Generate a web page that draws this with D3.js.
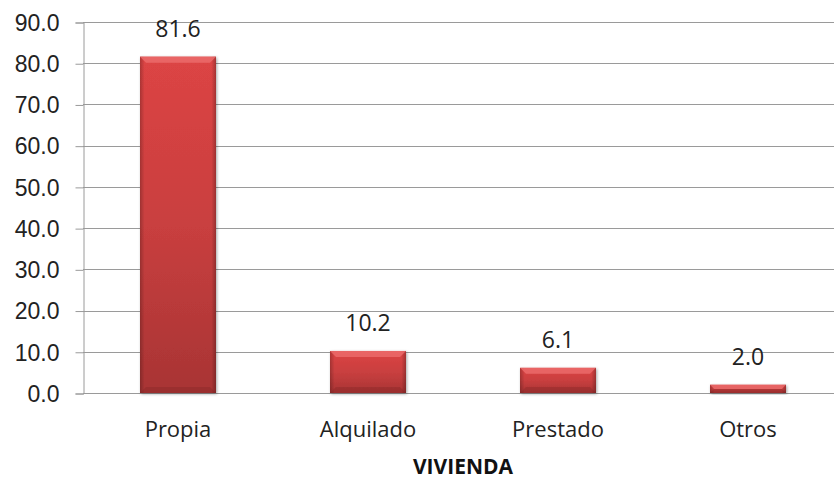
<!DOCTYPE html>
<html>
<head>
<meta charset="utf-8">
<script src="https://cdn.jsdelivr.net/npm/d3@7"></script>
<style>
	body { margin: 0; background: #fff; }
	svg { display: block; font-family: "Open Sans", Lato, sans-serif; }
	.tick text { fill: #222; }
</style>
</head>
<body>
<svg id="chart" width="834" height="480"></svg>
<script>
// Values
var categories = [ 'Propia', 'Alquilado', 'Prestado', 'Otros' ];
var values = [ 81.6, 10.2, 6.1, 2.0 ];
var yTicks = [ 0, 10, 20, 30, 40, 50, 60, 70, 80, 90 ];
var axisTitle = 'VIVIENDA';

var svg = d3.select( '#chart' );
var padding = { top: 22, left: 83, bottom: 87 };
var height = 480;

var x = d3.scaleBand()
	.domain( categories )
	.range( [ padding.left, padding.left + 760 ] )
	.paddingInner( 0.6 )
	.paddingOuter( 0.3 );

var y = d3.scaleLinear()
	.domain( [ 0, 90 ] )
	.range( [ height - padding.bottom, padding.top ] );

// gradients
var defs = svg.append( 'defs' );
var grad = defs.append( 'linearGradient' )
	.attr( 'id', 'barFill' )
	.attr( 'x1', 0 ).attr( 'y1', 0 ).attr( 'x2', 0 ).attr( 'y2', 1 );
grad.append( 'stop' ).attr( 'offset', '0%' ).attr( 'stop-color', '#dc4444' );
grad.append( 'stop' ).attr( 'offset', '50%' ).attr( 'stop-color', '#c93f3f' );
grad.append( 'stop' ).attr( 'offset', '100%' ).attr( 'stop-color', '#a83434' );

var side = defs.append( 'linearGradient' )
	.attr( 'id', 'sideShade' )
	.attr( 'x1', 0 ).attr( 'y1', 0 ).attr( 'x2', 1 ).attr( 'y2', 0 );
side.append( 'stop' ).attr( 'offset', '0%' ).attr( 'stop-color', '#000' ).attr( 'stop-opacity', 0.22 );
side.append( 'stop' ).attr( 'offset', '6%' ).attr( 'stop-color', '#000' ).attr( 'stop-opacity', 0 );
side.append( 'stop' ).attr( 'offset', '94%' ).attr( 'stop-color', '#000' ).attr( 'stop-opacity', 0 );
side.append( 'stop' ).attr( 'offset', '100%' ).attr( 'stop-color', '#000' ).attr( 'stop-opacity', 0.25 );

var shadow = defs.append( 'filter' ).attr( 'id', 'shadow' )
	.attr( 'x', '-10%' ).attr( 'y', '-10%' ).attr( 'width', '130%' ).attr( 'height', '130%' );
shadow.append( 'feDropShadow' )
	.attr( 'dx', 1 ).attr( 'dy', 1 ).attr( 'stdDeviation', 1.5 )
	.attr( 'flood-color', '#000' ).attr( 'flood-opacity', 0.35 );

// gridlines
svg.append( 'g' ).selectAll( 'line' )
	.data( yTicks )
	.enter()
	.append( 'line' )
	.attr( 'x1', padding.left )
	.attr( 'x2', 834 )
	.attr( 'y1', function ( d ) { return Math.round( y( d ) ) + 0.5; } )
	.attr( 'y2', function ( d ) { return Math.round( y( d ) ) + 0.5; } )
	.style( 'stroke', '#9a9a9a' )
	.style( 'stroke-width', 1 );

// y axis
var yAxis = svg.append( 'g' )
	.attr( 'transform', 'translate(' + ( padding.left + 0.5 ) + ',0.5)' )
	.call( d3.axisLeft( y ).tickValues( yTicks ).tickSize( 8 ).tickPadding( 16 )
		.tickFormat( function ( d ) { return d.toFixed( 1 ); } ) );
yAxis.select( '.domain' ).style( 'stroke', '#9a9a9a' );
yAxis.selectAll( '.tick line' ).style( 'stroke', '#9a9a9a' );
yAxis.selectAll( '.tick text' )
	.style( 'font-size', '23px' )
	.attr( 'dy', '0.34em' );

// bars
var bev = 6;
var bars = svg.append( 'g' ).selectAll( '.bar' )
	.data( values )
	.enter()
	.append( 'g' )
	.attr( 'class', 'bar' );

bars.append( 'rect' )
	.attr( 'x', function ( d, i ) { return x( categories[i] ); } )
	.attr( 'y', function ( d ) { return y( d ); } )
	.attr( 'width', x.bandwidth() )
	.attr( 'height', function ( d ) { return y( 0 ) - y( d ); } )
	.style( 'fill', 'url(#barFill)' )
	.attr( 'filter', 'url(#shadow)' );

bars.append( 'rect' )
	.attr( 'x', function ( d, i ) { return x( categories[i] ); } )
	.attr( 'y', function ( d ) { return y( d ); } )
	.attr( 'width', x.bandwidth() )
	.attr( 'height', function ( d ) { return y( 0 ) - y( d ); } )
	.style( 'fill', 'url(#sideShade)' );

// top bevel
bars.append( 'path' )
	.attr( 'd', function ( d, i ) {
		var x0 = x( categories[i] ), x1 = x0 + x.bandwidth(), t = y( d );
		var b = Math.min( bev, ( y( 0 ) - t ) / 2 );
		return 'M' + x0 + ',' + t + 'L' + x1 + ',' + t + 'L' + ( x1 - b ) + ',' + ( t + b ) +
			'L' + ( x0 + b ) + ',' + ( t + b ) + 'Z';
	} )
	.style( 'fill', '#ee7070' )
	.style( 'opacity', 0.75 );

// bottom bevel
bars.append( 'path' )
	.attr( 'd', function ( d, i ) {
		var x0 = x( categories[i] ), x1 = x0 + x.bandwidth(), bt = y( 0 );
		var b = Math.min( bev, ( bt - y( d ) ) / 2 );
		return 'M' + x0 + ',' + bt + 'L' + x1 + ',' + bt + 'L' + ( x1 - b ) + ',' + ( bt - b ) +
			'L' + ( x0 + b ) + ',' + ( bt - b ) + 'Z';
	} )
	.style( 'fill', '#7a2020' )
	.style( 'opacity', 0.3 );

// value labels
bars.append( 'text' )
	.attr( 'x', function ( d, i ) { return x( categories[i] ) + x.bandwidth() / 2; } )
	.attr( 'y', function ( d ) { return y( d ) - 20; } )
	.attr( 'text-anchor', 'middle' )
	.style( 'font-size', '23px' )
	.style( 'fill', '#222' )
	.text( function ( d ) { return d.toFixed( 1 ); } );

// category labels
svg.append( 'g' ).selectAll( 'text' )
	.data( categories )
	.enter()
	.append( 'text' )
	.attr( 'x', function ( d ) { return x( d ) + x.bandwidth() / 2; } )
	.attr( 'y', 437 )
	.attr( 'text-anchor', 'middle' )
	.style( 'font-size', '22px' )
	.style( 'fill', '#222' )
	.text( function ( d ) { return d; } );

svg.append( 'text' )
	.attr( 'x', x( categories[1] ) + ( x( categories[2] ) - x( categories[1] ) + x.bandwidth() ) / 2 )
	.attr( 'y', 474 )
	.attr( 'text-anchor', 'middle' )
	.style( 'font-size', '21px' )
	.style( 'font-weight', 'bold' )
	.style( 'fill', '#111' )
	.text( axisTitle );
</script>
</body>
</html>
